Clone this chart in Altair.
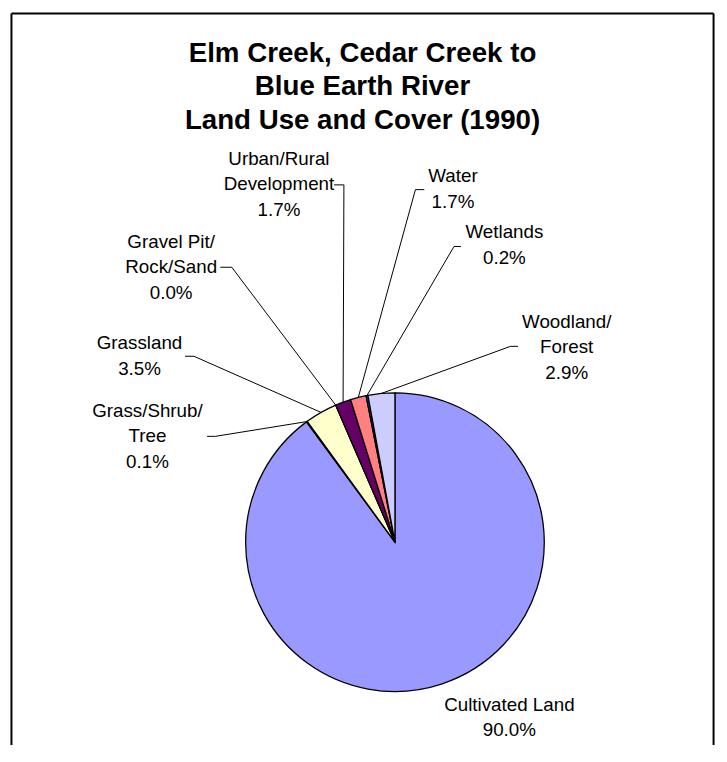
import math
import altair as alt
import pandas as pd

# ---------------- data ----------------
categories = ["Cultivated Land", "Grass/Shrub/Tree", "Grassland", "Gravel Pit/Rock/Sand",
              "Urban/Rural Development", "Water", "Wetlands", "Woodland/Forest"]
values = [90.0, 0.1, 3.5, 0.0, 1.7, 1.7, 0.2, 2.9]
colors = ["#9999FF", "#993366", "#FFFFCC", "#CCFFFF", "#660066", "#FF8080", "#0066CC", "#CCCCFF"]
label_lines = [["Cultivated Land"], ["Grass/Shrub/", "Tree"], ["Grassland"],
               ["Gravel Pit/", "Rock/Sand"], ["Urban/Rural", "Development"],
               ["Water"], ["Wetlands"], ["Woodland/", "Forest"]]
title_lines = ["Elm Creek, Cedar Creek to", "Blue Earth River", "Land Use and Cover (1990)"]

# ---------------- layout (page pixels) ----------------
OX, OY = 10, 8                 # page position of the view origin
W, H = 711, 740
CX, CY, R = 398.3, 543.0, 151.0
LINE_H = 25.8
FONT = "Liberation Sans"
label_pos = [(514, 707.5), (148, 410), (140, 342), (172, 239.5), (281, 155.5),
             (457, 173), (509, 229.5), (572, 320)]
# elbow x, elbow y, tick end x
leader_pos = [None, (216.7, 436, 208.3), (195, 355, 186), (233.3, 265, 221.7),
              (346.7, 181.7, 336.7), (419, 186.5, 428), (458, 244, 465), (515, 345, 522.7)]
title_base = [(365.5, 57), (365.5, 91), (365.5, 125)]

# ---------------- tables ----------------
pie_df = pd.DataFrame({"category": categories, "value": values, "idx": list(range(len(values)))})

total = sum(values)
lab_rows, seg_rows = [], []
cum = 0.0
for i, (cat, v) in enumerate(zip(categories, values)):
    mid = (cum + v / 2) / total * 2 * math.pi
    cum += v
    px = CX + R * math.sin(mid)
    py = CY - R * math.cos(mid)
    lines = label_lines[i] + [f"{v:.1f}%"]
    lx, ly = label_pos[i]
    for k, t in enumerate(lines):
        lab_rows.append({"text": t, "x": lx - OX, "y": ly + k * LINE_H - OY})
    if leader_pos[i] is not None:
        ex, ey, tx = leader_pos[i]
        seg_rows.append({"x": px - OX, "y": py - OY, "x2": ex - OX, "y2": ey - OY})
        seg_rows.append({"x": ex - OX, "y": ey - OY, "x2": tx - OX, "y2": ey - OY})

lab_df = pd.DataFrame(lab_rows)
seg_df = pd.DataFrame(seg_rows)
title_df = pd.DataFrame({"text": title_lines,
                         "x": [p[0] - OX for p in title_base],
                         "y": [p[1] - OY for p in title_base]})
frame_df = pd.DataFrame({"x": [0.5, 0.5, W - 0.5], "y": [H, 0.5, 0.5],
                         "x2": [0.5, W - 0.5, W - 0.5], "y2": [0.5, 0.5, H]})

X = lambda f: alt.X(f, scale=None, axis=None)
Y = lambda f: alt.Y(f, scale=None, axis=None)

pie = alt.Chart(pie_df).mark_arc(outerRadius=R, stroke="black", strokeWidth=1.3).encode(
    theta=alt.Theta("value:Q", stack=True),
    color=alt.Color("category:N", scale=alt.Scale(domain=categories, range=colors), legend=None),
    order=alt.Order("idx:Q"),
    x=alt.value(CX - OX),
    y=alt.value(CY - OY),
)

leaders = alt.Chart(seg_df).mark_rule(color="black", strokeWidth=1).encode(
    x=X("x:Q"), y=Y("y:Q"), x2="x2:Q", y2="y2:Q")

labels = alt.Chart(lab_df).mark_text(font=FONT, fontSize=19, color="black",
                                     align="center", baseline="middle").encode(
    x=X("x:Q"), y=Y("y:Q"), text="text:N")

title = alt.Chart(title_df).mark_text(font=FONT, fontSize=28, fontWeight="bold", color="black",
                                      align="center", baseline="alphabetic").encode(
    x=X("x:Q"), y=Y("y:Q"), text="text:N")

frame = alt.Chart(frame_df).mark_rule(color="black", strokeWidth=2).encode(
    x=X("x:Q"), y=Y("y:Q"), x2="x2:Q", y2="y2:Q")

chart = alt.layer(pie, leaders, labels, title, frame).properties(
    width=W, height=H,
    padding={"left": 2, "top": 0, "right": 4, "bottom": 0},
).configure_view(stroke=None)

chart.save("out.html", embed_options={"renderer": "svg", "actions": False})
